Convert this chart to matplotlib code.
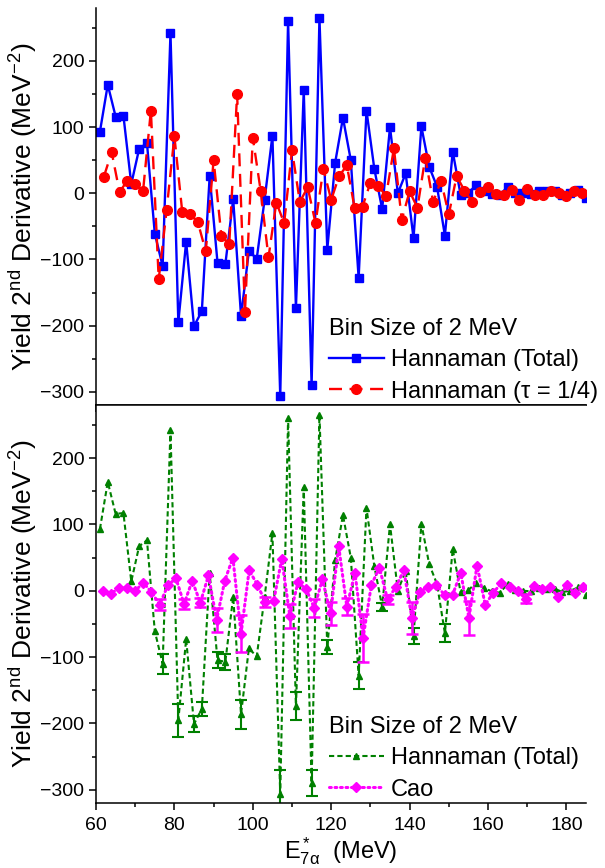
import numpy as np
import matplotlib
matplotlib.use("Agg")
import matplotlib.pyplot as plt
from matplotlib.ticker import MultipleLocator

plt.rcParams['font.family'] = ['Liberation Sans', 'DejaVu Sans']
plt.rcParams['mathtext.fontset'] = 'custom'
plt.rcParams['mathtext.rm'] = 'Liberation Sans'
plt.rcParams['mathtext.it'] = 'Liberation Sans:italic'

# Hannaman (Total), 2 MeV bins at odd energies
e_tot = np.arange(61, 186, 2)
y_tot = [93, 164, 116, 117, 14, 67, 76, -61, -110, 242,
         -195, -73, -201, -178, 26, -105, -107, -9, -186, -87,
         -99, -10, 87, -306, 260, -174, 156, -290, 265, -85,
         46, 114, 50, -128, 125, 37, -24, 100, 0, 30,
         -68, 101, 40, 10, -64, 63, -2, 1, 12, 4,
         -1, -3, 10, 1, 0, -1, 4, 3, 3, -2,
         0, 5, -7]

# Hannaman (tau = 1/4), even energies
e_tau = np.arange(62, 185, 2)
y_tau = [25, 62, 2, 19, 14, 3, 125, -130, -26, 86,
         -28, -31, -44, -88, 50, -65, -76, 150, -180, 84,
         4, -97, -14, -45, 65, -13, 9, -45, 37, -10,
         26, 42, -23, -20, 16, 11, -4, 68, -40, 3,
         -22, 54, -13, 19, -32, 26, 4, -13, 2, 10,
         -1, -3, 5, -10, 7, -2, -2, 4, 1, -4,
         3, 1]

# error bars on Hannaman (Total) in the lower panel
e_tot_err = [77, 81, 85, 87, 91, 93, 97, 107, 111, 115, 119, 127, 133, 141, 149]
tot_err = [15, 25, 12, 11, 12, 12, 22, 35, 21, 20, 11, 20, 6, 12, 14]

# Cao
e_cao = np.linspace(61.7, 184.2, 60)
y_cao = [-1, -4.5, 4, 4, 0, 12, -2, -21, 8, 19,
         -20, 15, -18, 23, -44, 15, 50, -65, 31, 9,
         -17, -16, 48, -38, 12.5, 2.5, -26, 17, -34, 67,
         -24, 27, -71, 8, 35, -13, 5, 31, -41, -1.5,
         6, 8, -6, -6, 27, -41, 38, -21, -3, 12,
         5, -1, -12, 7, 2, 5, -10, 8, -4, 5]
cao_err_idx = [7, 10, 12, 14, 17, 20, 23, 26, 28, 30, 32, 35, 38, 45, 52]
cao_err = [8.5, 8, 7, 18, 28, 8, 18, 14, 17, 12.5, 36, 7, 24, 25, 7]

blue = '#0000ff'
red = '#ff0000'
green = '#008000'
magenta = '#ff00ff'

fig = plt.figure(figsize=(6.05, 8.68), dpi=100)
ax1 = fig.add_axes([96 / 605, 1 - 405 / 868, 490 / 605, 397 / 868])
ax2 = fig.add_axes([96 / 605, 1 - 803 / 868, 490 / 605, 398 / 868], sharex=ax1)

# top panel
l1, = ax1.plot(e_tot, y_tot, '-s', color=blue, lw=1.7, ms=6, label='Hannaman (Total)')
l2, = ax1.plot(e_tau, y_tau, '--o', color=red, lw=1.7, ms=7, dashes=(5.5, 3.2),
               label='Hannaman (\u03c4 = 1/4)')

# bottom panel
g1, = ax2.plot(e_tot, y_tot, '--^', color=green, lw=1.5, ms=5, dashes=(2.5, 1.5),
               label='Hannaman (Total)')
ye = [y_tot[list(e_tot).index(e)] for e in e_tot_err]
ax2.errorbar(e_tot_err, ye, yerr=tot_err, fmt='none', ecolor=green, elinewidth=1.5,
             capsize=4, capthick=1.5)
m1, = ax2.plot(e_cao, y_cao, marker='D', color=magenta, lw=2.2, ms=5,
               linestyle=(0, (0.6, 1.2)), dash_capstyle='round', label='Cao')
ax2.errorbar(e_cao[cao_err_idx], [y_cao[i] for i in cao_err_idx], yerr=cao_err,
             fmt='none', ecolor=magenta, elinewidth=1.8, capsize=4, capthick=1.8)

for ax in (ax1, ax2):
    ax.set_xlim(60, 185)
    ax.set_ylim(-320, 280)
    ax.yaxis.set_major_locator(MultipleLocator(100))
    ax.yaxis.set_minor_locator(MultipleLocator(50))
    ax.xaxis.set_major_locator(MultipleLocator(20))
    ax.xaxis.set_minor_locator(MultipleLocator(10))
    ax.tick_params(which='both', direction='out', width=1.1, labelsize=14)
    ax.tick_params(which='major', length=5)
    ax.tick_params(which='minor', length=3)
    ax.tick_params(axis='x', pad=5)
    ax.spines['right'].set_visible(False)
    for s in ax.spines.values():
        s.set_linewidth(1.1)
    ax.set_ylabel('Yield 2$^{\\mathregular{nd}}$ Derivative (MeV$^{\\mathregular{-2}}$)',
                  fontsize=19, labelpad=1)

ax1.spines['top'].set_visible(False)
ax1.tick_params(labelbottom=False)
ax2.tick_params(top=False)
ax2.set_xlabel('$\\mathregular{E^*_{7\\alpha}}$  (MeV)', fontsize=17, labelpad=1)

for ax, hs in ((ax1, [l1, l2]), (ax2, [g1, m1])):
    leg = ax.legend(handles=hs, title='Bin Size of 2 MeV', loc='lower left',
                    bbox_to_anchor=(0.47, 0.0), frameon=False, fontsize=17,
                    title_fontsize=17, handlelength=2.35, handletextpad=0.3,
                    labelspacing=0.4, borderpad=0.1, borderaxespad=0.0,
                    alignment='left')

fig.savefig('out.png', dpi=100)
